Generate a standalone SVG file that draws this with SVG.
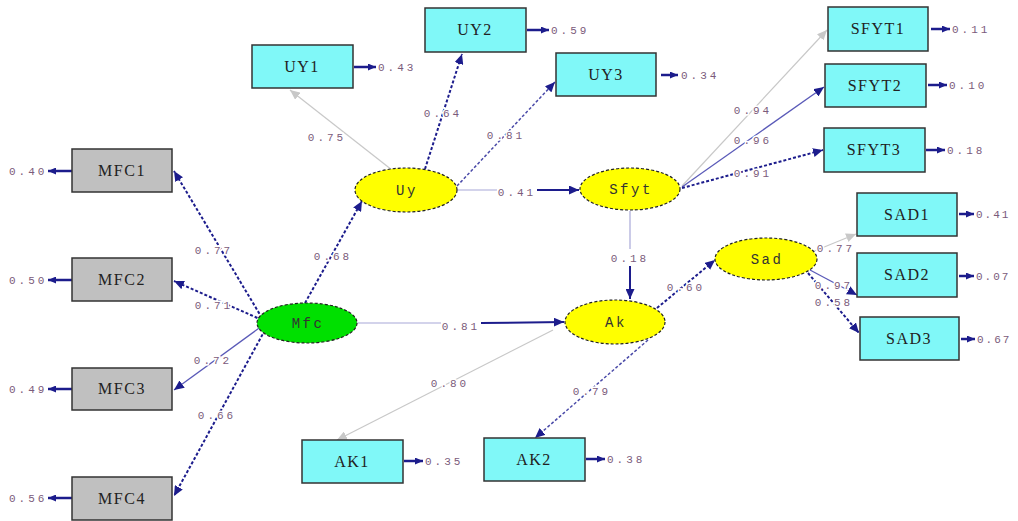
<svg xmlns="http://www.w3.org/2000/svg" width="1018" height="521" viewBox="0 0 1018 521">
  <style>
    .obs-grey { fill: #c0c0c0; stroke: #333; stroke-width: 1.5; }
    .obs-cyan { fill: #80f8f8; stroke: #333; stroke-width: 1.5; }
    .lat { stroke: #222; stroke-width: 1.2; stroke-dasharray: 3 2; }
    .lat-y { fill: #ffff00; }
    .lat-g { fill: #00e000; }
    .box-label { font-family: "Liberation Serif", serif; font-size: 16px; letter-spacing: 1.5px; fill: #222; text-anchor: middle; }
    .lat-label { font-family: "Liberation Mono", monospace; font-size: 14px; letter-spacing: 2.5px; fill: #333; text-anchor: middle; }
    .val { font-family: "Liberation Mono", monospace; font-size: 11px; letter-spacing: 3px; fill: #7b5b7b; text-anchor: middle; paint-order: stroke; stroke: #fff; stroke-width: 3px; }
    .err-val { font-family: "Liberation Mono", monospace; font-size: 11px; letter-spacing: 3px; fill: #7b5b7b; }
    .err-val.tight { letter-spacing: 2px; }
    .navy { stroke: #1c1c8c; stroke-width: 2; stroke-dasharray: 3 2; fill: none; }
    .mid { stroke: #5a5ab8; stroke-width: 1.3; fill: none; }
    .mid-d { stroke: #4a4aa8; stroke-width: 1.5; stroke-dasharray: 3 2; fill: none; }
    .light { stroke: #a8a8d8; stroke-width: 1.2; fill: none; }
    .solid-navy { stroke: #1c1c8c; stroke-width: 2; fill: none; }
    .grey { stroke: #c8c8c8; stroke-width: 1.2; fill: none; }
    .err { stroke: #1c1c8c; stroke-width: 2.5; fill: none; }
  </style>
  <defs>
    <marker id="ah" markerUnits="userSpaceOnUse" markerWidth="11" markerHeight="9" refX="10" refY="4.5" orient="auto">
      <path d="M0,0 L10,4.5 L0,9 z" fill="#1c1c8c"/>
    </marker>
    <marker id="ah-grey" markerUnits="userSpaceOnUse" markerWidth="11" markerHeight="9" refX="10" refY="4.5" orient="auto">
      <path d="M0,0 L10,4.5 L0,9 z" fill="#c8c8c8"/>
    </marker>
    <marker id="ah-err" markerUnits="userSpaceOnUse" markerWidth="9" markerHeight="7" refX="8" refY="3.5" orient="auto">
      <path d="M0,0 L8,3.5 L0,7 z" fill="#1c1c8c"/>
    </marker>
  </defs>

  <rect width="1018" height="521" fill="#fff"/>

  <!-- connectors -->
  <g id="connectors">
    <!-- Mfc indicators -->
    <line class="navy" x1="262" y1="318" x2="174" y2="171" marker-end="url(#ah)"/>
    <line class="navy" x1="262" y1="320" x2="174" y2="281" marker-end="url(#ah)"/>
    <line class="mid" x1="262" y1="326" x2="174" y2="390" marker-end="url(#ah)"/>
    <line class="navy" x1="265" y1="330" x2="174" y2="496" marker-end="url(#ah)"/>
    <!-- structural paths -->
    <line class="navy" x1="305" y1="303" x2="362" y2="201" marker-end="url(#ah)"/>
    <line class="light" x1="457" y1="190" x2="497" y2="190"/>
    <line class="solid-navy" x1="537" y1="190" x2="579" y2="190" marker-end="url(#ah)"/>
    <line class="light" x1="630" y1="211" x2="630" y2="249"/>
    <line class="solid-navy" x1="630" y1="266" x2="630" y2="299" marker-end="url(#ah)"/>
    <line class="light" x1="357" y1="323" x2="441" y2="323"/>
    <line class="solid-navy" x1="481" y1="323" x2="564" y2="322" marker-end="url(#ah)"/>
    <line class="navy" x1="657" y1="308" x2="715" y2="260" marker-end="url(#ah)"/>
    <!-- Uy indicators -->
    <line class="grey" x1="392" y1="170" x2="290" y2="90" marker-end="url(#ah-grey)"/>
    <line class="navy" x1="425" y1="169" x2="462" y2="54" marker-end="url(#ah)"/>
    <line class="mid-d" x1="457" y1="186" x2="555" y2="82" marker-end="url(#ah)"/>
    <!-- Sfyt indicators -->
    <line class="grey" x1="682" y1="186" x2="827" y2="30" marker-end="url(#ah-grey)"/>
    <line class="mid" x1="682" y1="187" x2="824" y2="87" marker-end="url(#ah)"/>
    <line class="navy" x1="682" y1="188" x2="823" y2="150" marker-end="url(#ah)"/>
    <!-- Sad indicators -->
    <line class="grey" x1="812" y1="252" x2="856" y2="234" marker-end="url(#ah-grey)"/>
    <line class="mid" x1="810" y1="270" x2="857" y2="295" marker-end="url(#ah)"/>
    <line class="navy" x1="808" y1="273" x2="859" y2="333" marker-end="url(#ah)"/>
    <!-- Ak indicators -->
    <line class="grey" x1="553" y1="330" x2="337" y2="440" marker-end="url(#ah-grey)"/>
    <line class="mid-d" x1="648" y1="340" x2="535" y2="438" marker-end="url(#ah)"/>

    <!-- error arrows -->
    <line class="err" x1="72" y1="171" x2="48" y2="171" marker-end="url(#ah-err)"/>
    <line class="err" x1="72" y1="280" x2="48" y2="280" marker-end="url(#ah-err)"/>
    <line class="err" x1="72" y1="389" x2="48" y2="389" marker-end="url(#ah-err)"/>
    <line class="err" x1="72" y1="498" x2="48" y2="498" marker-end="url(#ah-err)"/>
    <line class="err" x1="354" y1="67" x2="376" y2="67" marker-end="url(#ah-err)"/>
    <line class="err" x1="527" y1="30" x2="549" y2="30" marker-end="url(#ah-err)"/>
    <line class="err" x1="661" y1="75" x2="678" y2="75" marker-end="url(#ah-err)"/>
    <line class="err" x1="931" y1="29" x2="950" y2="29" marker-end="url(#ah-err)"/>
    <line class="err" x1="928" y1="85" x2="947" y2="85" marker-end="url(#ah-err)"/>
    <line class="err" x1="926" y1="150" x2="945" y2="150" marker-end="url(#ah-err)"/>
    <line class="err" x1="959" y1="214" x2="974" y2="214" marker-end="url(#ah-err)"/>
    <line class="err" x1="959" y1="276" x2="974" y2="276" marker-end="url(#ah-err)"/>
    <line class="err" x1="961" y1="339" x2="975" y2="339" marker-end="url(#ah-err)"/>
    <line class="err" x1="404" y1="461" x2="423" y2="461" marker-end="url(#ah-err)"/>
    <line class="err" x1="586" y1="459" x2="605" y2="459" marker-end="url(#ah-err)"/>

    <!-- path coefficients -->
    <text class="val" x="214" y="254">0.77</text>
    <text class="val" x="214" y="309">0.71</text>
    <text class="val" x="213" y="364">0.72</text>
    <text class="val" x="217" y="419">0.66</text>
    <text class="val" x="333" y="260">0.68</text>
    <text class="val" x="327" y="141">0.75</text>
    <text class="val" x="443" y="117">0.64</text>
    <text class="val" x="506" y="139">0.81</text>
    <text class="val" x="517" y="196">0.41</text>
    <text class="val" x="753" y="114">0.94</text>
    <text class="val" x="753" y="144">0.96</text>
    <text class="val" x="753" y="177">0.91</text>
    <text class="val" x="630" y="262">0.18</text>
    <text class="val" x="461" y="330">0.81</text>
    <text class="val" x="686" y="291">0.60</text>
    <text class="val" x="836" y="252">0.77</text>
    <text class="val" x="834" y="289">0.97</text>
    <text class="val" x="834" y="306">0.58</text>
    <text class="val" x="450" y="387">0.80</text>
    <text class="val" x="592" y="395">0.79</text>

    <!-- error variances -->
    <text class="err-val" x="9" y="175">0.40</text>
    <text class="err-val" x="9" y="284">0.50</text>
    <text class="err-val" x="9" y="393">0.49</text>
    <text class="err-val" x="9" y="502">0.56</text>
    <text class="err-val" x="378" y="71">0.43</text>
    <text class="err-val" x="551" y="34">0.59</text>
    <text class="err-val" x="681" y="79">0.34</text>
    <text class="err-val" x="952" y="33">0.11</text>
    <text class="err-val" x="949" y="89">0.10</text>
    <text class="err-val" x="947" y="154">0.18</text>
    <text class="err-val tight" x="976" y="218">0.41</text>
    <text class="err-val tight" x="976" y="280">0.07</text>
    <text class="err-val tight" x="977" y="343">0.67</text>
    <text class="err-val" x="425" y="465">0.35</text>
    <text class="err-val" x="607" y="463">0.38</text>
  </g>

  <!-- observed variables -->
  <g id="MFC1"><rect class="obs-grey" x="72" y="149" width="100" height="43"/><text class="box-label" x="122" y="176">MFC1</text></g>
  <g id="MFC2"><rect class="obs-grey" x="72" y="258" width="100" height="43"/><text class="box-label" x="122" y="285">MFC2</text></g>
  <g id="MFC3"><rect class="obs-grey" x="72" y="368" width="100" height="42"/><text class="box-label" x="122" y="394">MFC3</text></g>
  <g id="MFC4"><rect class="obs-grey" x="72" y="477" width="100" height="43"/><text class="box-label" x="122" y="504">MFC4</text></g>

  <g id="UY1"><rect class="obs-cyan" x="252" y="45" width="101" height="43"/><text class="box-label" x="302" y="72">UY1</text></g>
  <g id="UY2"><rect class="obs-cyan" x="425" y="8" width="101" height="44"/><text class="box-label" x="475" y="35">UY2</text></g>
  <g id="UY3"><rect class="obs-cyan" x="556" y="53" width="100" height="43"/><text class="box-label" x="606" y="80">UY3</text></g>

  <g id="SFYT1"><rect class="obs-cyan" x="828" y="7" width="100" height="44"/><text class="box-label" x="878" y="34">SFYT1</text></g>
  <g id="SFYT2"><rect class="obs-cyan" x="825" y="64" width="101" height="43"/><text class="box-label" x="875" y="91">SFYT2</text></g>
  <g id="SFYT3"><rect class="obs-cyan" x="824" y="128" width="101" height="44"/><text class="box-label" x="874" y="155">SFYT3</text></g>

  <g id="SAD1"><rect class="obs-cyan" x="857" y="193" width="100" height="43"/><text class="box-label" x="907" y="220">SAD1</text></g>
  <g id="SAD2"><rect class="obs-cyan" x="857" y="253" width="100" height="44"/><text class="box-label" x="907" y="280">SAD2</text></g>
  <g id="SAD3"><rect class="obs-cyan" x="860" y="317" width="99" height="43"/><text class="box-label" x="909" y="344">SAD3</text></g>

  <g id="AK1"><rect class="obs-cyan" x="302" y="440" width="101" height="43"/><text class="box-label" x="352" y="467">AK1</text></g>
  <g id="AK2"><rect class="obs-cyan" x="484" y="438" width="101" height="43"/><text class="box-label" x="534" y="465">AK2</text></g>

  <!-- latent variables -->
  <g id="Mfc"><ellipse class="lat lat-g" cx="307" cy="323" rx="50" ry="20"/><text class="lat-label" x="308" y="328">Mfc</text></g>
  <g id="Uy"><ellipse class="lat lat-y" cx="406" cy="190" rx="51" ry="22"/><text class="lat-label" x="407" y="195">Uy</text></g>
  <g id="Sfyt"><ellipse class="lat lat-y" cx="630" cy="189" rx="50" ry="21"/><text class="lat-label" x="631" y="194">Sfyt</text></g>
  <g id="Ak"><ellipse class="lat lat-y" cx="615" cy="322" rx="50" ry="22"/><text class="lat-label" x="616" y="327">Ak</text></g>
  <g id="Sad"><ellipse class="lat lat-y" cx="766" cy="259" rx="51" ry="21"/><text class="lat-label" x="767" y="264">Sad</text></g>
</svg>
